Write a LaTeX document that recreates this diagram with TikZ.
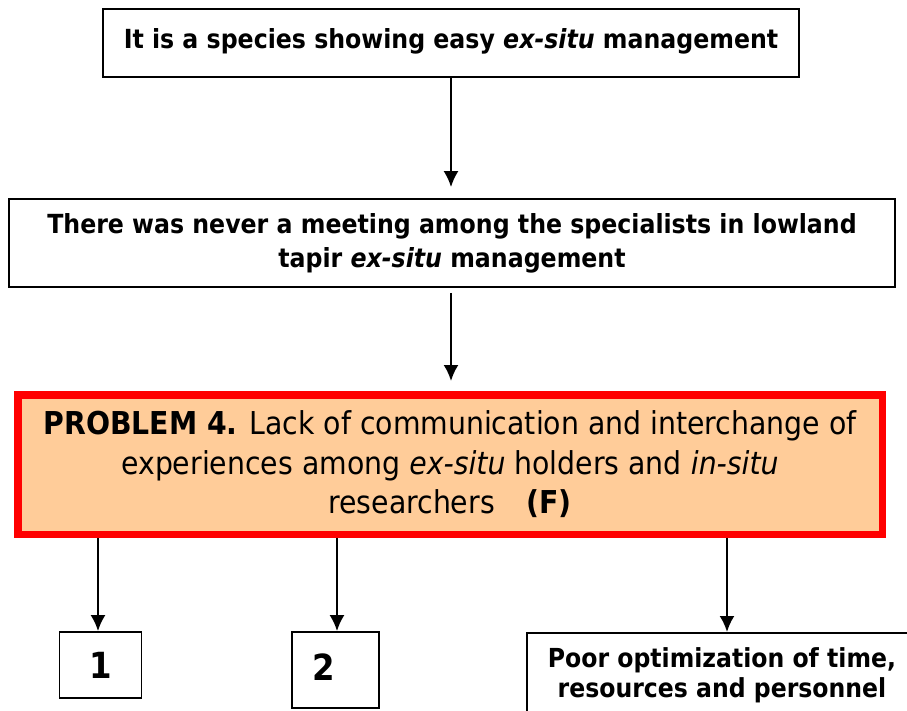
\documentclass[tikz,border=0pt]{standalone}
\usepackage{fontspec}
\setmainfont{DejaVu Sans Condensed}
\usetikzlibrary{arrows.meta}
\definecolor{probfill}{RGB}{255,204,153}
\definecolor{probred}{RGB}{255,0,0}
\begin{document}
\begin{tikzpicture}[x=1pt,y=-1pt,
  box/.style={draw=black,line width=1.8pt,fill=white,inner sep=0pt,align=center,font=\fontsize{26.3}{34}\selectfont\bfseries},
  numbox/.style={box,font=\fontsize{36}{36}\selectfont\bfseries},
  arr/.style={line width=2.2pt,-{Latex[length=16pt,width=15pt]}},
  probbox/.style={draw=probred,line width=7.5pt,fill=probfill,inner sep=0pt,align=center,font=\fontsize{31.5}{39.5}\selectfont}]
\useasboundingbox (0,0) rectangle (907,710);
\node[box,minimum width=696pt,minimum height=68pt] (t) at (451,43) {\raisebox{8pt}{It is a species showing easy \textit{ex-situ} management}};
\node[box,minimum width=886pt,minimum height=88pt] (m) at (452,243) {There was never a meeting among the specialists in lowland\\tapir \textit{ex-situ} management};
\node[probbox,minimum width=864.5pt,minimum height=139.5pt] (p) at (450,464.5) {\textbf{PROBLEM 4.} Lack of communication and interchange of\\experiences among \textit{ex-situ} holders and \textit{in-situ}\\researchers\quad\textbf{(F)}};
\node[numbox,minimum width=82pt,minimum height=66pt] (b1) at (100.5,665) {1};
\node[numbox,minimum width=87pt,minimum height=76pt] (b2) at (335.5,670) {\hspace*{-24pt}\raisebox{5pt}{2}};
\node[box,minimum width=390pt,minimum height=110pt,anchor=north] (b3) at (722,632) {};
\node[font=\fontsize{26.2}{30}\selectfont\bfseries,align=center] (b3t) at (722,675) {Poor optimization of time,\\resources and personnel};
\draw[arr] (t.south) -- ([yshift=11pt]t.south |- m.north);
\draw[arr] ([yshift=-5pt]t.south |- m.south) -- ([yshift=10pt]t.south |- p.north);
\draw[arr] (p.south -| 98,0) -- (b1.north -| 98,0);
\draw[arr] (p.south -| 337,0) -- (b2.north -| 337,0);
\draw[arr] (p.south -| 727,0) -- (b3.north -| 727,0);
\end{tikzpicture}
\end{document}
